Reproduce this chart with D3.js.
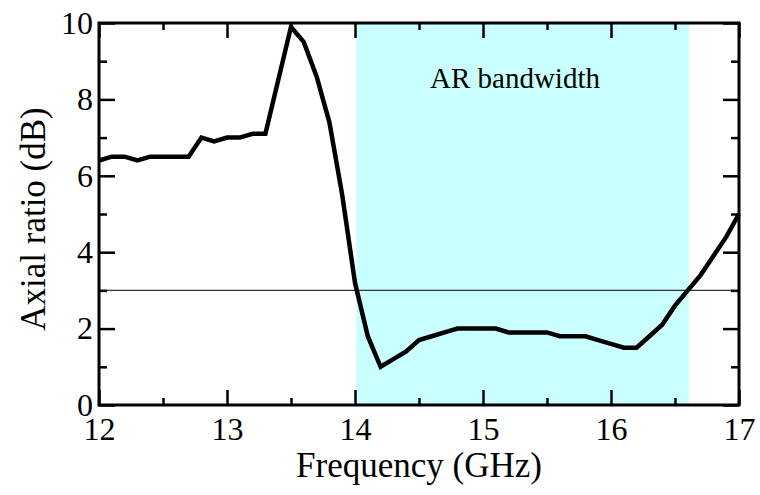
<!DOCTYPE html>
<html>
<head>
<meta charset="utf-8">
<script src="https://cdn.jsdelivr.net/npm/d3@7"></script>
<style>
  body { margin: 0; background: #fff; }
  .tick line { stroke: #000; stroke-width: 2.5; }
  .domain { display: none; }
</style>
</head>
<body>
<script>
// frequency samples (GHz) and axial ratio (dB)
const freq = [12.0, 12.1, 12.2, 12.3, 12.4, 12.5, 12.6, 12.7, 12.8, 12.9,
              13.0, 13.1, 13.2, 13.3, 13.4, 13.5, 13.6, 13.7, 13.8, 13.9,
              14.0, 14.1, 14.2, 14.3, 14.4, 14.5, 14.6, 14.7, 14.8, 14.9,
              15.0, 15.1, 15.2, 15.3, 15.4, 15.5, 15.6, 15.7, 15.8, 15.9,
              16.0, 16.1, 16.2, 16.3, 16.4, 16.5, 16.6, 16.7, 16.8, 16.9, 17.0];
const axialRatio = [6.4, 6.5, 6.5, 6.4, 6.5, 6.5, 6.5, 6.5, 7.0, 6.9,
                    7.0, 7.0, 7.1, 7.1, 8.5, 9.9, 9.5, 8.6, 7.4, 5.5,
                    3.2, 1.8, 1.0, 1.2, 1.4, 1.7, 1.8, 1.9, 2.0, 2.0,
                    2.0, 2.0, 1.9, 1.9, 1.9, 1.9, 1.8, 1.8, 1.8, 1.7,
                    1.6, 1.5, 1.5, 1.8, 2.1, 2.6, 3.0, 3.4, 3.9, 4.4, 5.0];

// shaded bandwidth and 3 dB reference
const band = [14.01, 16.61];
const threshold = 3;

const xTicks = [12, 13, 14, 15, 16, 17];
const xMinor = [12.5, 13.5, 14.5, 15.5, 16.5];
const yTicks = [0, 2, 4, 6, 8, 10];
const yMinor = [1, 3, 5, 7, 9];

const serif = "'Liberation Serif', 'Times New Roman', Times, serif";

const margin = {top: 23, right: 21, bottom: 90, left: 99},
    width = 760 - margin.left - margin.right,
    height = 495 - margin.top - margin.bottom;

const x = d3.scaleLinear().domain([12, 17]).range([0, width]);
const y = d3.scaleLinear().domain([0, 10]).range([height, 0]);

const svg = d3.select("body").append("svg")
    .attr("width", 760)
    .attr("height", 495);

const g = svg.append("g")
    .attr("transform", "translate(" + margin.left + "," + margin.top + ")");

// AR bandwidth shading
g.append("rect")
    .attr("x", x(band[0]))
    .attr("y", 0)
    .attr("width", x(band[1]) - x(band[0]))
    .attr("height", height)
    .attr("fill", "#c9ffff");

g.append("text")
    .attr("x", x(15.25))
    .attr("y", 65)
    .attr("text-anchor", "middle")
    .style("font-family", serif)
    .style("font-size", "29px")
    .text("AR bandwidth");

// 3 dB line
g.append("line")
    .attr("x1", 0).attr("x2", width)
    .attr("y1", y(threshold)).attr("y2", y(threshold))
    .attr("stroke", "#333")
    .attr("stroke-width", 1.2);

// curve
const line = d3.line()
    .x((d, i) => x(freq[i]))
    .y(d => y(d));

g.append("path")
    .datum(axialRatio)
    .attr("fill", "none")
    .attr("stroke", "#000")
    .attr("stroke-width", 4.5)
    .attr("stroke-linejoin", "miter")
    .attr("d", line);

// axes, ticks pointing inward on all four sides
const xAxis = g.append("g")
    .attr("transform", "translate(0," + height + ")")
    .call(d3.axisBottom(x).tickValues(xTicks).tickSize(-15).tickPadding(12).tickFormat(d3.format("d")));
g.append("g")
    .attr("transform", "translate(0," + height + ")")
    .call(d3.axisBottom(x).tickValues(xMinor).tickSize(-7).tickFormat(""));
g.append("g")
    .call(d3.axisTop(x).tickValues(xTicks).tickSize(-15).tickFormat(""));
g.append("g")
    .call(d3.axisTop(x).tickValues(xMinor).tickSize(-7).tickFormat(""));

const yAxis = g.append("g")
    .call(d3.axisLeft(y).tickValues(yTicks).tickSize(-16).tickPadding(6).tickFormat(d3.format("d")));
g.append("g")
    .call(d3.axisLeft(y).tickValues(yMinor).tickSize(-8).tickFormat(""));
g.append("g")
    .attr("transform", "translate(" + width + ",0)")
    .call(d3.axisRight(y).tickValues(yTicks).tickSize(-16).tickFormat(""));
g.append("g")
    .attr("transform", "translate(" + width + ",0)")
    .call(d3.axisRight(y).tickValues(yMinor).tickSize(-8).tickFormat(""));

[xAxis, yAxis].forEach(a => {
    a.attr("font-family", serif).attr("font-size", 32);
    a.selectAll(".tick text")
        .style("font-family", serif)
        .style("font-size", "32px")
        .attr("fill", "#000");
});

// frame
g.append("rect")
    .attr("width", width)
    .attr("height", height)
    .attr("fill", "none")
    .attr("stroke", "#000")
    .attr("stroke-width", 3);

// axis titles
svg.append("text")
    .attr("x", margin.left + width / 2)
    .attr("y", 477)
    .attr("text-anchor", "middle")
    .style("font-family", serif)
    .style("font-size", "35px")
    .text("Frequency (GHz)");

svg.append("text")
    .attr("transform", "translate(45," + (margin.top + height / 2 + 5) + ") rotate(-90)")
    .attr("text-anchor", "middle")
    .style("font-family", serif)
    .style("font-size", "35px")
    .text("Axial ratio (dB)");
</script>
</body>
</html>
